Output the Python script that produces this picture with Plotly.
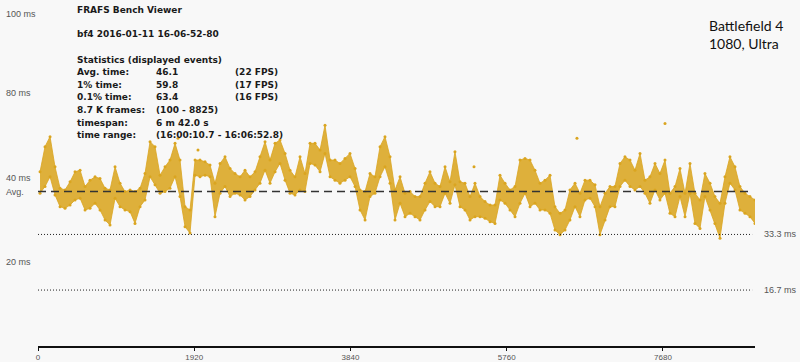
import plotly.graph_objects as go

# ---------------- data ----------------
frames = [25, 86, 148, 209, 271, 332, 394, 455, 517, 578, 639, 701, 762, 824, 885, 947,
          1008, 1069, 1131, 1192, 1254, 1315, 1377, 1438, 1500, 1561, 1622, 1684, 1745, 1807,
          1868, 1930, 1991, 2053, 2114, 2175, 2237, 2298, 2360, 2421, 2483, 2544, 2605, 2667,
          2728, 2790, 2851, 2913, 2974, 3036, 3097, 3158, 3220, 3281, 3343, 3404, 3466, 3527,
          3589, 3650, 3711, 3773, 3834, 3896, 3957, 4019, 4080, 4141, 4203, 4264, 4326, 4387,
          4449, 4510, 4572, 4633, 4694, 4756, 4817, 4879, 4940, 5002, 5063, 5124, 5186, 5247,
          5309, 5370, 5432, 5493, 5555, 5616, 5677, 5739, 5800, 5862, 5923, 5985, 6046, 6107,
          6169, 6230, 6292, 6353, 6415, 6476, 6537, 6599, 6660, 6722, 6783, 6845, 6906, 6968,
          7029, 7090, 7152, 7213, 7275, 7336, 7398, 7459, 7520, 7582, 7643, 7705, 7766, 7828,
          7889, 7951, 8012, 8073, 8135, 8196, 8258, 8319, 8381, 8442, 8503, 8565, 8626, 8688,
          8749, 8811]

hi_ms = [52.0, 59.5, 62.5, 53.5, 47.1, 46.6, 49.0, 52.0, 52.5, 47.6, 49.5, 50.5, 50.0, 47.1,
         46.6, 53.5, 48.6, 46.1, 46.6, 46.1, 47.1, 51.5, 61.0, 59.5,
         51.0, 53.5, 55.5, 60.5, 55.5, 41.6, 40.6, 55.5, 55.5, 55.0, 54.0, 48.6, 54.5, 56.5,
         53.0, 51.5, 50.5, 52.5, 50.5, 52.0, 56.5, 61.0, 55.5, 60.5,
         61.5, 57.5, 52.5, 50.5, 56.5, 51.5, 60.5, 60.5, 58.5, 65.9, 55.5, 55.5, 54.5, 56.0,
         57.5, 53.0, 46.6, 46.1, 51.5, 50.5, 59.5, 62.5, 56.5, 46.6,
         50.5, 45.6, 46.1, 44.6, 44.6, 48.6, 52.0, 48.6, 47.6, 53.5, 49.0, 58.0, 49.0, 48.6,
         44.6, 48.6, 44.6, 43.1, 42.1, 42.1, 51.0, 48.6, 46.6, 47.6,
         55.5, 56.0, 55.5, 52.5, 48.6, 49.5, 51.0, 41.6, 39.6, 40.6, 46.6, 48.6, 45.6, 49.5,
         49.5, 48.1, 41.6, 45.6, 47.6, 47.6, 54.5, 56.5, 55.5, 52.5,
         57.5, 49.5, 50.5, 54.5, 51.5, 55.5, 45.6, 47.6, 53.0, 45.6, 54.5, 45.6, 43.6, 51.5,
         48.6, 44.6, 42.6, 50.5, 56.5, 53.5, 47.6, 45.6, 44.6, 43.6]

lo_ms = [45.6, 47.6, 50.5, 45.1, 41.6, 41.1, 42.1, 43.6, 44.1, 40.6, 41.1, 42.6, 40.6, 37.6,
         36.1, 44.1, 41.6, 40.6, 40.1, 36.6, 41.6, 43.6, 50.5, 48.1,
         45.6, 46.1, 47.1, 50.5, 44.6, 35.6, 33.7, 51.0, 50.5, 51.0, 50.5, 38.6, 45.6, 47.6,
         44.6, 45.6, 45.1, 43.6, 44.6, 46.6, 48.6, 52.5, 48.6, 52.0,
         54.5, 49.5, 45.6, 45.1, 46.6, 46.1, 54.5, 54.0, 52.0, 57.5, 50.5, 49.5, 48.6, 49.5,
         50.5, 47.6, 40.6, 37.6, 44.6, 45.6, 50.5, 53.5, 48.6, 37.6,
         42.6, 38.6, 39.6, 38.6, 37.6, 40.6, 43.1, 41.6, 41.6, 45.6, 42.6, 48.1, 41.6, 40.6,
         37.6, 38.6, 38.6, 38.1, 37.1, 36.6, 43.6, 42.6, 40.6, 38.6,
         42.6, 45.6, 41.6, 42.6, 40.6, 40.6, 39.6, 34.6, 33.2, 34.6, 37.6, 41.6, 38.6, 43.6,
         44.1, 41.6, 33.2, 37.6, 41.6, 41.6, 47.6, 49.5, 47.6, 46.6,
         47.6, 45.6, 42.6, 46.6, 43.6, 45.6, 39.6, 38.6, 44.6, 38.6, 45.6, 36.6, 35.1, 44.6,
         40.6, 36.6, 32.2, 42.6, 48.6, 46.6, 40.6, 39.6, 38.6, 36.6]

spike_frames = [1720, 1966, 5358, 6623, 7705]
spike_ms = [62.0, 58.5, 53.5, 62.0, 66.4]

avg_ms = 46.1
ref_ms = [33.3, 16.7]
ref_labels = ["33.3 ms", "16.7 ms"]

ylabel_vals = [99.0, 75.5, 50.3, 25.0]
ylabel_text = ["100 ms", "80 ms", "40 ms", "20 ms"]

xtick_vals = [0, 1920, 3840, 5760, 7680]
x_max = 8811

title_text = "FRAFS Bench Viewer"
session_text = "bf4 2016-01-11 16-06-52-80"
stats_header = "Statistics (displayed events)"
stat_names = ["Avg. time:", "1% time:", "0.1% time:", "8.7 K frames:", "timespan:", "time range:"]
stat_values = ["46.1", "59.8", "63.4", "(100 - 8825)", "6 m 42.0 s", "(16:00:10.7 - 16:06:52.8)"]
stat_fps = ["(22 FPS)", "(17 FPS)", "(16 FPS)", "", "", ""]
game_text = "Battlefield 4<br>1080, Ultra"

# ---------------- layout helpers ----------------
W, H = 800, 362
ML, MR, MT, MB = 38, 45, 11, 16
PW, PH = W - ML - MR, H - MT - MB


def px(xp):
    return (xp - ML) / PW


def py(yp):
    return (H - MB - yp) / PH


GOLD = "rgb(218,165,32)"

fig = go.Figure()
fig.add_trace(go.Scatter(x=frames, y=lo_ms, mode="lines+markers",
                         line=dict(color=GOLD, width=0.8),
                         marker=dict(color=GOLD, size=3),
                         showlegend=False, hoverinfo="skip"))
fig.add_trace(go.Scatter(x=frames, y=hi_ms, mode="lines+markers",
                         line=dict(color=GOLD, width=0.8),
                         marker=dict(color=GOLD, size=3),
                         fill="tonexty", fillcolor="rgba(218,165,32,0.88)",
                         showlegend=False, hoverinfo="skip"))
fig.add_trace(go.Scatter(x=spike_frames, y=spike_ms, mode="markers",
                         marker=dict(color=GOLD, size=3),
                         showlegend=False, hoverinfo="skip"))

shapes = [dict(type="line", xref="x", yref="y", x0=0, x1=x_max * 0.996,
               y0=avg_ms, y1=avg_ms, layer="above",
               line=dict(color="#333333", width=1.5, dash="8px,5px"))]
for v in ref_ms:
    shapes.append(dict(type="line", xref="x", yref="y", x0=0, x1=x_max * 0.996,
                       y0=v, y1=v, layer="above",
                       line=dict(color="#222222", width=1, dash="1px,2px")))

LBL = dict(family="Liberation Sans, Arial, sans-serif", size=9, color="#555555")
annotations = []
for v, t in zip(ylabel_vals, ylabel_text):
    annotations.append(dict(xref="paper", yref="y", x=px(4), y=v, text=t,
                            showarrow=False, xanchor="left", yanchor="middle", font=LBL))
annotations.append(dict(xref="paper", yref="y", x=px(4), y=avg_ms, text="Avg.",
                        showarrow=False, xanchor="left", yanchor="middle", font=LBL))
for v, t in zip(ref_ms, ref_labels):
    annotations.append(dict(xref="paper", yref="y", x=px(762), y=v, text=t,
                            showarrow=False, xanchor="left", yanchor="middle", font=LBL))

BOLD = dict(family="DejaVu Sans, Verdana, sans-serif", size=9, color="#1a1a1a")


def txt(x, y, t):
    annotations.append(dict(xref="paper", yref="paper", x=px(x), y=py(y), text="<b>" + t + "</b>",
                            showarrow=False, xanchor="left", yanchor="middle", font=BOLD))


txt(75, 10, title_text)
txt(75, 34, session_text)
txt(75, 60, stats_header)
for i, (n, v, f) in enumerate(zip(stat_names, stat_values, stat_fps)):
    y = 72.5 + i * 12.5
    txt(75, y, n)
    txt(154, y, v)
    if f:
        txt(233, y, f)

annotations.append(dict(xref="paper", yref="paper", x=px(707), y=py(34), text=game_text,
                        showarrow=False, xanchor="left", yanchor="middle", align="left",
                        font=dict(family="Lato, Open Sans, sans-serif", size=14, color="#111111")))

fig.update_layout(
    width=W, height=H,
    margin=dict(l=ML, r=MR, t=MT, b=MB, autoexpand=False),
    paper_bgcolor="#f8f8f8", plot_bgcolor="rgba(0,0,0,0)",
    shapes=shapes, annotations=annotations,
    xaxis=dict(range=[0, x_max], tickvals=xtick_vals, showgrid=False, zeroline=False,
               automargin=False,
               showline=True, linecolor="#111111", linewidth=1.5,
               ticks="outside", ticklen=3, tickcolor="#111111", tickwidth=1,
               tickfont=dict(family="Liberation Sans Narrow, Liberation Sans, sans-serif",
                             size=8, color="#555555")),
    yaxis=dict(range=[0, 100], showgrid=False, zeroline=False, showline=False,
               automargin=False, showticklabels=False, ticks=""),
)

fig.write_html("out.html", config={"displayModeBar": False},
               post_script="document.body.style.margin='0';document.body.style.background='#f8f8f8';")
